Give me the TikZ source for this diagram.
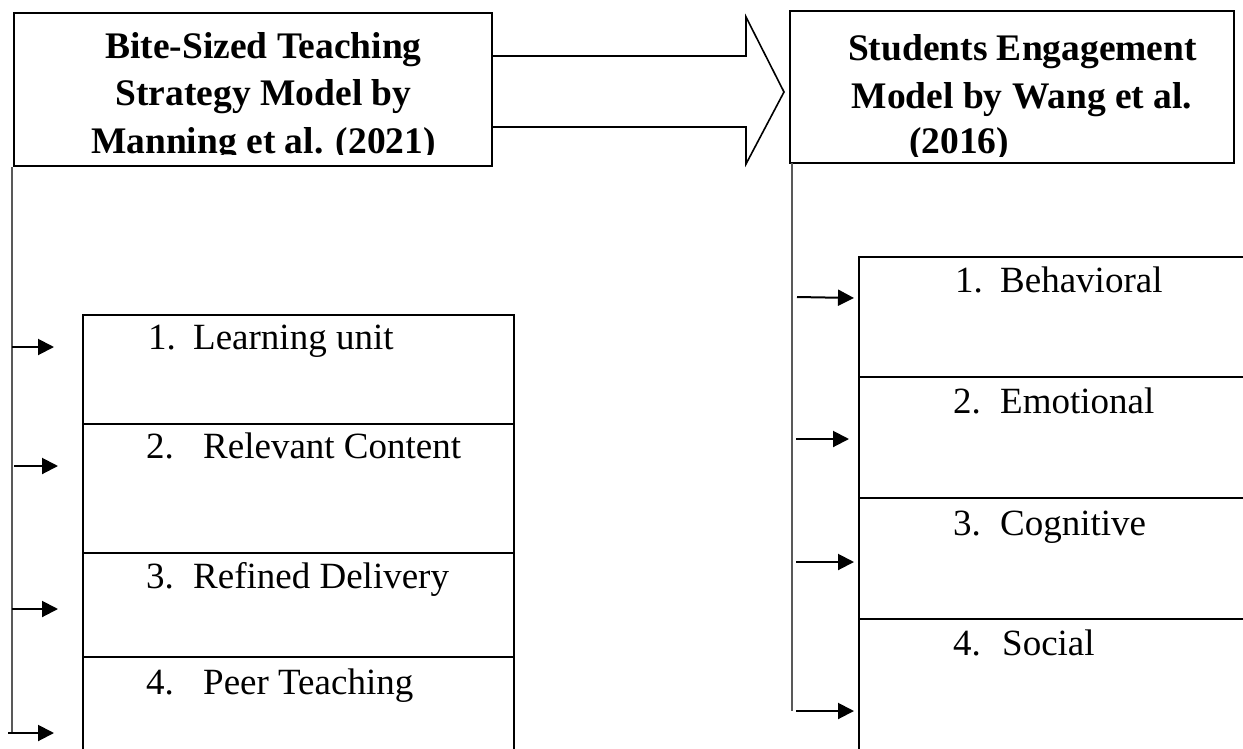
\documentclass[tikz,border=0pt]{standalone}
\usepackage{fontspec}
\setmainfont{Liberation Serif}
\usetikzlibrary{arrows.meta}
\begin{document}
\begin{tikzpicture}[x=1pt,y=-1pt,
  frame/.style={draw=black, line width=1.6pt, inner sep=0pt, outer sep=0pt},
  ttl/.style={inner sep=0pt, anchor=base, font=\fontsize{37.5}{44}\selectfont\bfseries},
  item/.style={inner sep=0pt, anchor=base west, font=\fontsize{37}{44}\selectfont},
  spine/.style={line width=1.2pt, draw=black!65},
  feed/.style={line width=2pt, -{Triangle[length=16pt,width=16pt]}},
  blockarrow/.style={draw=black, line width=1.6pt, line join=miter}
]
\useasboundingbox (0,0) rectangle (1243,748);
\clip (0,0) rectangle (1243,748);

% heading boxes
\node[frame, minimum width=478pt, minimum height=153pt] (bst) at (253,89.5) {};
\node[frame, minimum width=444pt, minimum height=152pt] (sem) at (1012,87) {};

\begin{scope}
  \clip (14,13) rectangle (492,154);
  \node[ttl] (bst1) at (263.5,58)  {Bite-Sized Teaching};
  \node[ttl] (bst2) at (263.5,105) {Strategy Model by};
  \node[ttl] (bst3) at (263.5,153) {Manning et al. (2021)};
\end{scope}
\begin{scope}
  \clip (790,11) rectangle (1234,156);
  \node[ttl] (sem1) at (1022.5,60)  {Students Engagement};
  \node[ttl] (sem2) at (1022,108)   {Model by Wang et al.};
  \node[ttl] (sem3) at (959,153)    {(2016)};
\end{scope}

% block arrow between the two models
\draw[blockarrow] (bst.east |- 0,56) -- (746,56) -- (746,17) -- (784,92)
  -- (746,164) -- (746,127) -- (bst.east |- 0,127);

% left list
\node[frame, minimum width=431pt, minimum height=109pt] (l1) at (298.5,369.5) {};
\node[frame, minimum width=431pt, minimum height=129pt] (l2) at (298.5,488.5) {};
\node[frame, minimum width=431pt, minimum height=104pt] (l3) at (298.5,605) {};
\node[frame, minimum width=431pt, minimum height=143pt] (l4) at (298.5,728.5) {};
\node[item] (l1t) at (148,349) {\makebox[45pt][l]{1.}Learning unit};
\node[item] (l2t) at (146,458) {\makebox[57pt][l]{2.}Relevant Content};
\node[item] (l3t) at (146,588) {\makebox[47pt][l]{3.}Refined Delivery};
\node[item] (l4t) at (146,694) {\makebox[57pt][l]{4.}Peer Teaching};

% right list
\node[frame, minimum width=441pt, minimum height=120pt] (r1) at (1079.5,317) {};
\node[frame, minimum width=441pt, minimum height=121pt] (r2) at (1079.5,437.5) {};
\node[frame, minimum width=441pt, minimum height=121pt] (r3) at (1079.5,558.5) {};
\node[frame, minimum width=441pt, minimum height=181pt] (r4) at (1079.5,709.5) {};
\node[item] (r1t) at (955,292) {\makebox[45pt][l]{1.}Behavioral};
\node[item] (r2t) at (953,413) {\makebox[47pt][l]{2.}Emotional};
\node[item] (r3t) at (953,535) {\makebox[47pt][l]{3.}Cognitive};
\node[item] (r4t) at (953,655) {\makebox[49pt][l]{4.}Social};

% left connectors
\coordinate (ls0) at (12,167);
\coordinate (ls4) at (12,733);
\draw[spine] (ls0) -- (ls4);
\coordinate (la1) at (54,347);
\coordinate (la2) at (58,466);
\coordinate (la3) at (58,609);
\coordinate (la4) at (54,733);
\draw[feed] (12,347) -- (la1);
\draw[feed] (14,466) -- (la2);
\draw[feed] (12,609) -- (la3);
\draw[feed] (8,733) -- (la4);

% right connectors
\coordinate (rs0) at (792,163);
\coordinate (rs4) at (792,711);
\draw[spine] (rs0) -- (rs4);
\coordinate (ra1) at (854,298);
\coordinate (ra2) at (849,439);
\coordinate (ra3) at (854,562);
\coordinate (ra4) at (854,711);
\draw[feed] (797,297) -- (ra1);
\draw[feed] (796,439) -- (ra2);
\draw[feed] (796,562) -- (ra3);
\draw[feed] (796,711) -- (ra4);
\end{tikzpicture}
\end{document}
